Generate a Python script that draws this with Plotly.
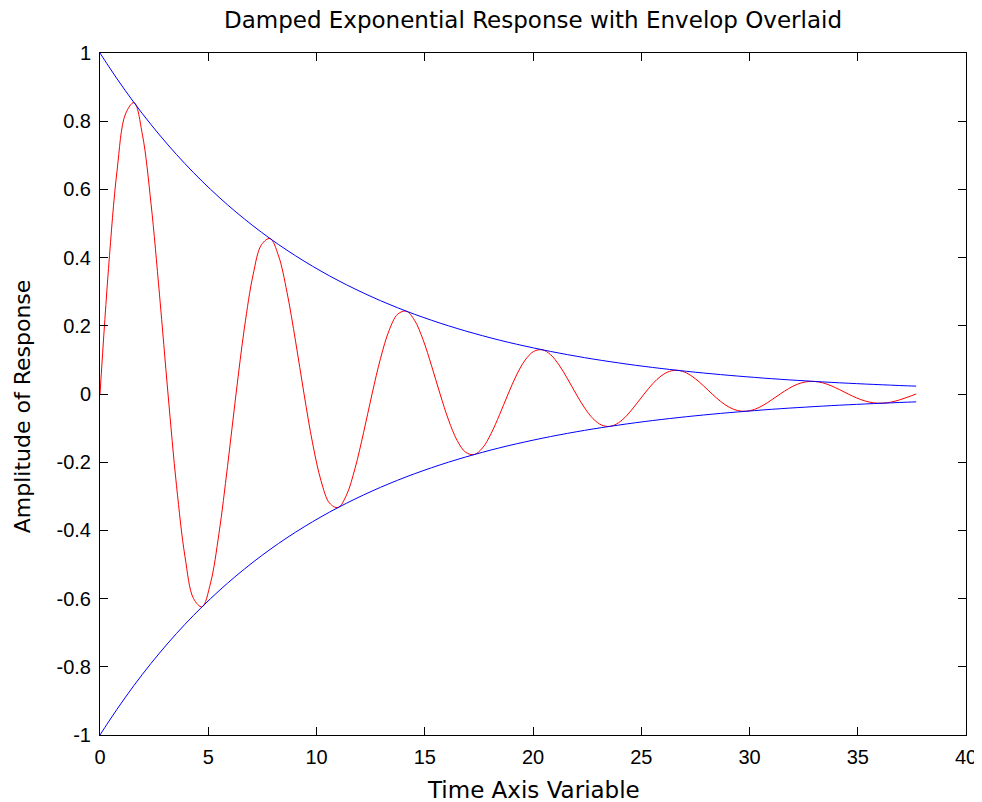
import plotly.graph_objects as go

# time samples (multiples of pi/8: 0 .. ~37.7)
t = [0.0, 0.393, 0.785, 1.178, 1.571, 1.963, 2.356, 2.749, 3.142, 3.534, 3.927, 4.320, 4.712,
     5.105, 5.498, 5.890, 6.283, 6.676, 7.069, 7.461, 7.854, 8.247, 8.639, 9.032, 9.425, 9.817,
     10.210, 10.603, 10.996, 11.388, 11.781, 12.174, 12.566, 12.959, 13.352, 13.744, 14.137,
     14.530, 14.923, 15.315, 15.708, 16.101, 16.493, 16.886, 17.279, 17.671, 18.064, 18.457,
     18.850, 19.242, 19.635, 20.028, 20.420, 20.813, 21.206, 21.598, 21.991, 22.384, 22.777,
     23.169, 23.562, 23.955, 24.347, 24.740, 25.133, 25.525, 25.918, 26.311, 26.704, 27.096,
     27.489, 27.882, 28.274, 28.667, 29.060, 29.452, 29.845, 30.238, 30.631, 31.023, 31.416,
     31.809, 32.201, 32.594, 32.987, 33.379, 33.772, 34.165, 34.558, 34.950, 35.343, 35.736,
     36.128, 36.521, 36.914, 37.306, 37.699]

response = [0.0, 0.3679, 0.6537, 0.8212, 0.8546, 0.7591, 0.5587, 0.2907,
            0.0, -0.2687, -0.4775, -0.5998, -0.6242, -0.5545, -0.4081, -0.2123,
            0.0, 0.1963, 0.3487, 0.4381, 0.4559, 0.4050, 0.2981, 0.1551,
            0.0, -0.1434, -0.2547, -0.3200, -0.3330, -0.2958, -0.2177, -0.1133,
            0.0, 0.1047, 0.1861, 0.2337, 0.2432, 0.2160, 0.1590, 0.0828,
            0.0, -0.0765, -0.1359, -0.1707, -0.1777, -0.1579, -0.1161, -0.0604,
            0.0, 0.0559, 0.0993, 0.1247, 0.1298, 0.1153, 0.0848, 0.0442,
            0.0, -0.0408, -0.0725, -0.0911, -0.0948, -0.0842, -0.0620, -0.0322,
            0.0, 0.0298, 0.0530, 0.0665, 0.0692, 0.0615, 0.0453, 0.0236,
            0.0, -0.0218, -0.0387, -0.0486, -0.0506, -0.0450, -0.0331, -0.0172,
            0.0, 0.0159, 0.0283, 0.0355, 0.0369, 0.0328, 0.0241, 0.0126,
            0.0, -0.0116, -0.0206, -0.0259, -0.0270, -0.0240, -0.0176, -0.0092,
            0.0]

envelope = [1.0, 0.9615, 0.9245, 0.8889, 0.8546, 0.8217, 0.7901, 0.7597,
            0.7304, 0.7023, 0.6752, 0.6492, 0.6242, 0.6002, 0.5771, 0.5549,
            0.5335, 0.5130, 0.4932, 0.4742, 0.4559, 0.4383, 0.4215, 0.4053,
            0.3897, 0.3747, 0.3602, 0.3463, 0.3330, 0.3202, 0.3079, 0.2960,
            0.2846, 0.2736, 0.2631, 0.2530, 0.2432, 0.2338, 0.2249, 0.2162,
            0.2079, 0.1999, 0.1922, 0.1848, 0.1777, 0.1709, 0.1642, 0.1579,
            0.1518, 0.1460, 0.1404, 0.1350, 0.1298, 0.1248, 0.1200, 0.1154,
            0.1109, 0.1066, 0.1025, 0.0986, 0.0948, 0.0912, 0.0876, 0.0842,
            0.0810, 0.0779, 0.0749, 0.0720, 0.0692, 0.0665, 0.0640, 0.0615,
            0.0592, 0.0569, 0.0547, 0.0526, 0.0506, 0.0487, 0.0467, 0.0449,
            0.0432, 0.0415, 0.0400, 0.0385, 0.0369, 0.0355, 0.0341, 0.0328,
            0.0316, 0.0304, 0.0292, 0.0281, 0.0270, 0.0260, 0.0249, 0.0239,
            0.0231]
neg_envelope = [-v for v in envelope]

x_ticks = [0, 5, 10, 15, 20, 25, 30, 35, 40]
y_ticks = [-1, -0.8, -0.6, -0.4, -0.2, 0, 0.2, 0.4, 0.6, 0.8, 1]
y_tick_text = ["-1", "-0.8", "-0.6", "-0.4", "-0.2", "0", "0.2", "0.4", "0.6", "0.8", "1"]

title_text = "Damped Exponential Response with Envelop Overlaid"
x_label = "Time Axis Variable"
y_label = "Amplitude of Response"

tick_font = "Liberation Sans, Arial, sans-serif"
label_font = "DejaVu Sans, sans-serif"

fig = go.Figure()
fig.add_trace(go.Scatter(x=t, y=response, mode="lines", line=dict(color="#ff0000", width=1, shape="spline")))
fig.add_trace(go.Scatter(x=t, y=envelope, mode="lines", line=dict(color="#0000ff", width=1, shape="spline")))
fig.add_trace(go.Scatter(x=t, y=neg_envelope, mode="lines", line=dict(color="#0000ff", width=1, shape="spline")))

axis_common = dict(showgrid=False, zeroline=False, showline=True, linecolor="black", linewidth=1,
                   mirror="ticks", ticks="inside", ticklen=8, tickcolor="black", automargin=False,
                   ticklabelstandoff=4, ticklabeloverflow="allow",
                   tickfont=dict(family=tick_font, size=20, color="black"))

# the page body adds an 8px offset, so the figure is laid out 8px smaller
fig.update_layout(
    width=974, height=794,
    margin=dict(l=92, r=16, t=45, b=67),
    paper_bgcolor="white", plot_bgcolor="white",
    showlegend=False,
    title=dict(text=title_text, x=0.5, xref="paper", xanchor="center",
               y=1 - 12 / 794, yref="container", yanchor="middle",
               font=dict(family=label_font, size=23, color="black")),
    xaxis=dict(range=[0, 40], tickvals=x_ticks, **axis_common),
    yaxis=dict(range=[-1, 1], tickvals=y_ticks, ticktext=y_tick_text, **axis_common),
    annotations=[
        dict(text=x_label, x=0.5, y=-0.0806, xref="paper", yref="paper", xanchor="center", yanchor="middle",
             showarrow=False, font=dict(family=label_font, size=23, color="black")),
        dict(text=y_label, x=-0.0901, y=0.482, xref="paper", yref="paper", xanchor="center", yanchor="middle",
             textangle=-90, showarrow=False, font=dict(family=label_font, size=22, color="black")),
    ],
)

fig.write_html("out.html")
